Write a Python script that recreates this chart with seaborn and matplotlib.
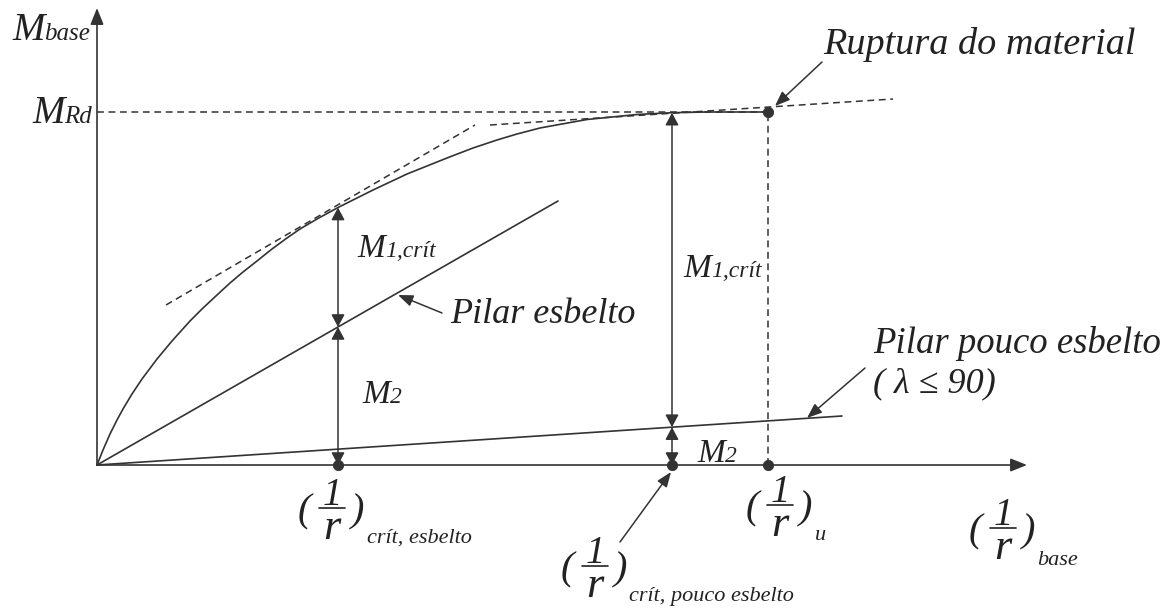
import matplotlib
matplotlib.use("Agg")
import numpy as np
import matplotlib.pyplot as plt
import seaborn as sns

# ---------------------------------------------------------------------
# Schematic M_base x (1/r)_base diagram (drawing units, origin at 0,0)
# ---------------------------------------------------------------------
# material curve: curvature vs base moment
curve_x = [0, 6, 13, 20, 26, 35, 45, 60, 75, 93, 106, 120, 133, 146, 160, 175, 190,
           203, 220, 242, 260, 276, 293, 310, 330, 350, 376, 400, 420, 443, 465, 490,
           510, 540, 575, 610, 640, 671]
curve_m = [0, 15, 31, 45, 56, 71, 86, 106, 124, 144, 157, 170, 182, 193, 204, 216, 227,
           236, 246, 258, 267, 275, 283, 291, 299, 307, 317, 325, 331, 337, 341, 345.5,
           347.5, 350.5, 352.3, 353, 353, 353]

# straight lines of the two columns (first-order + second-order moment)
slender_x = [0, 461]
slender_m = [0, 264]
stocky_x = [0, 745]
stocky_m = [0, 49]

# dashed tangents to the material curve
tangent1_x = [69, 378]
tangent1_m = [160, 340]
tangent2_x = [393, 796]
tangent2_m = [340, 366]

m_rd = 353           # resisting moment
curv_u = 671         # ultimate curvature
crit_slender = 241   # critical curvature, slender column
crit_stocky = 575    # critical curvature, stocky column
x_axis_end = 930
y_axis_end = 457

INK = "#333333"
TXT_INK = "#222222"

sns.set_theme(style="white")
FONT = ["Liberation Serif", "DejaVu Serif"]
plt.rcParams["font.family"] = FONT

fig = plt.figure(figsize=(11.73, 6.08), dpi=100)
ax = fig.add_axes([0, 0, 1, 1])
X0, Y0 = 97, 465
ax.set_xlim(-X0, 1173 - X0)
ax.set_ylim(Y0 - 608, Y0)
ax.set_axis_off()


def at(px, py):
    """reference pixel position -> drawing units (used for text only)"""
    return px - X0, Y0 - py


TXT = dict(color=TXT_INK, style="italic", ha="left", va="baseline")

# axes with arrow heads
for tip in [(0, y_axis_end), (x_axis_end, 0)]:
    ax.annotate("", xy=tip, xytext=(0, 0),
                arrowprops=dict(arrowstyle="-|>,head_length=1.0,head_width=0.4", color=INK,
                                lw=1.2, shrinkA=0, shrinkB=0, mutation_scale=10))

# curves
sns.lineplot(x=curve_x, y=curve_m, ax=ax, color=INK, lw=1.2, sort=False)
sns.lineplot(x=slender_x, y=slender_m, ax=ax, color=INK, lw=1.2)
sns.lineplot(x=stocky_x, y=stocky_m, ax=ax, color=INK, lw=1.2)

dash = dict(color=INK, lw=1.1, dashes=(4.5, 3))
ax.plot(tangent1_x, tangent1_m, **dash)
ax.plot(tangent2_x, tangent2_m, **dash)
ax.plot([0, curv_u], [m_rd, m_rd], **dash)
ax.plot([curv_u, curv_u], [0, m_rd], **dash)

# key points
sns.scatterplot(x=[crit_slender, crit_stocky, curv_u, curv_u], y=[0, 0, 0, m_rd],
                ax=ax, s=55, color=INK, edgecolor=INK, zorder=6, legend=False)


def dim_arrow(x, y0, y1):
    ax.annotate("", xy=(x, y1), xytext=(x, y0),
                arrowprops=dict(arrowstyle="<|-|>,head_length=0.75,head_width=0.4", color=INK,
                                lw=1.1, shrinkA=0, shrinkB=0, mutation_scale=10))


def leader(tail, tip):
    ax.annotate("", xy=at(*tip), xytext=at(*tail),
                arrowprops=dict(arrowstyle="-|>,head_length=0.9,head_width=0.35", color=INK,
                                lw=1.1, shrinkA=0, shrinkB=0, mutation_scale=10))


# moment split at the two critical curvatures
top_s = np.interp(crit_slender, curve_x, curve_m)
mid_s = np.interp(crit_slender, slender_x, slender_m)
dim_arrow(crit_slender, mid_s, top_s)
dim_arrow(crit_slender, 0, mid_s)

top_p = np.interp(crit_stocky, curve_x, curve_m)
mid_p = np.interp(crit_stocky, stocky_x, stocky_m)
dim_arrow(crit_stocky, mid_p, top_p)
dim_arrow(crit_stocky, 0, mid_p)

renderer = fig.canvas.get_renderer()


def sub_label(px, py, main, sub, size=24, sub_size=17):
    t = ax.text(*at(px, py), main, fontsize=size, **TXT)
    bb = t.get_window_extent(renderer=renderer)
    x_end = ax.transData.inverted().transform((bb.x1, bb.y0))[0]
    ax.text(x_end, at(px, py)[1], sub, fontsize=sub_size, **TXT)


sub_label(12, 40, "M", "base", size=28, sub_size=18)
sub_label(32, 123, "M", "Rd", size=28, sub_size=18)
sub_label(357, 257, "M", "1,crít")
sub_label(362, 403, "M", "2")
sub_label(683, 277, "M", "1,crít")
sub_label(697, 462, "M", "2")

ax.text(*at(450, 323), "Pilar esbelto", fontsize=26, **TXT)
ax.text(*at(873, 353), "Pilar pouco esbelto", fontsize=26.5, **TXT)
ax.text(*at(873, 392), "( λ ≤ 90)", fontsize=26, **TXT)
ax.text(*at(823, 54), "Ruptura do material", fontsize=27.5, **TXT)

leader((442, 313), (398, 295))
leader((865, 368), (807, 418))
leader((822, 62), (775, 106))
leader((620, 542), (671, 472))


def curvature_label(cx, bar, sub, sub_xy):
    """(1/r) with a subscript; cx, bar = fraction centre and bar height in pixels"""
    ax.plot([at(cx - 13, 0)[0], at(cx + 13, 0)[0]], [at(0, bar)[1]] * 2, color=TXT_INK, lw=1.2)
    ax.text(*at(cx, bar - 3), "1", fontsize=28, color=TXT_INK, style="italic",
            ha="center", va="baseline")
    ax.text(*at(cx, bar + 31), "r", fontsize=32, color=TXT_INK, style="italic",
            ha="center", va="baseline")
    ax.text(*at(cx - 21, bar + 4), "(", fontsize=29, color=TXT_INK, style="italic",
            ha="right", va="center")
    ax.text(*at(cx + 19, bar + 4), ")", fontsize=29, color=TXT_INK, style="italic",
            ha="left", va="center")
    ax.text(*at(*sub_xy), sub, fontsize=16, **TXT)


curvature_label(332, 508, "crít, esbelto", (367, 543))
curvature_label(595, 566, "crít, pouco esbelto", (629, 601))
curvature_label(780, 505, "u", (815, 540))
curvature_label(1003, 528, "base", (1037, 565))

fig.savefig("out.png", dpi=100, facecolor="white")
